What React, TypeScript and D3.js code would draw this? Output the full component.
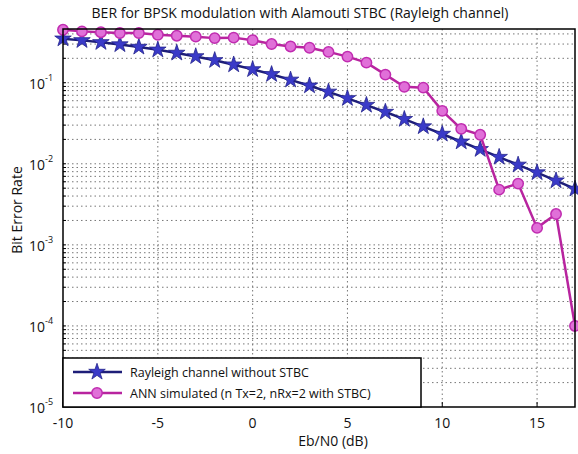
import React from "react";
import * as d3 from "d3";

const W = 578;
const H = 454;

const snrDb = [-10, -9, -8, -7, -6, -5, -4, -3, -2, -1, 0, 1, 2, 3, 4, 5, 6, 7, 8, 9, 10, 11, 12, 13, 14, 15, 16, 17];
const berRayleigh = [0.349, 0.333, 0.315, 0.296, 0.276, 0.255, 0.233, 0.211, 0.189, 0.167, 0.146, 0.127, 0.1085, 0.0919, 0.0772, 0.0642, 0.053, 0.0435, 0.0355, 0.0288, 0.0233, 0.0187, 0.0151, 0.0121, 0.0097, 0.0078, 0.0062, 0.0049];
const berAnn = [0.45, 0.43, 0.42, 0.41, 0.41, 0.39, 0.38, 0.37, 0.355, 0.36, 0.335, 0.3, 0.28, 0.27, 0.24, 0.21, 0.177, 0.126, 0.089, 0.087, 0.045, 0.027, 0.0228, 0.0048, 0.0057, 0.00162, 0.0024, 0.0001];
const xTicks = [-10, -5, 0, 5, 10, 15];
const yTickExps = [-1, -2, -3, -4, -5];
const legendLabels = ["Rayleigh channel without STBC", "ANN simulated (n Tx=2, nRx=2 with STBC)"];

const left = 63, right = 575, top = 29, bottom = 407;
const font = "'Open Sans', sans-serif";

export default function App() {
  const x = d3.scaleLinear().domain([-10, 17]).range([left, right]);
  const y = d3.scaleLog().domain([1e-5, 0.46]).range([bottom, top]);

  const line = d3.line<number>().x((_, i) => x(snrDb[i])).y((v) => y(v));
  const star = d3.symbol().type(d3.symbolStar).size(85)();

  // minor grid values m x 10^k
  const minor: number[] = [];
  for (let e = -5; e <= -1; e++) {
    for (let m = 1; m <= 9; m++) {
      const v = m * Math.pow(10, e);
      if (v < 0.46 && v > 1e-5) minor.push(v);
    }
  }
  const xGrid = xTicks.filter((t) => t > -10);

  return (
    <svg width={W} height={H} style={{ position: "absolute", left: 0, top: 0, background: "#fff" }} fontFamily={font}>
      <text x={300} y={18} textAnchor="middle" fontSize={14} fill="#111">
        BER for BPSK modulation with Alamouti STBC (Rayleigh channel)
      </text>

      {/* grid */}
      <g stroke="#777" strokeWidth={1} strokeDasharray="1.5,3">
        {minor.map((v, i) => (
          <line key={"gy" + i} x1={left} x2={right} y1={y(v)} y2={y(v)} />
        ))}
        {xGrid.map((t) => (
          <line key={"gx" + t} x1={x(t)} x2={x(t)} y1={top} y2={bottom} />
        ))}
      </g>

      {/* ticks */}
      <g stroke="#000" strokeWidth={1}>
        {minor.map((v, i) => (
          <line key={"ty" + i} x1={left} x2={left + 3} y1={y(v)} y2={y(v)} />
        ))}
        {xTicks.map((t) => (
          <line key={"tx" + t} x1={x(t)} x2={x(t)} y1={bottom} y2={bottom - 5} />
        ))}
      </g>

      {/* series */}
      <path d={line(berRayleigh) || ""} fill="none" stroke="#1e1e78" strokeWidth={2.5} />
      {berRayleigh.map((v, i) => (
        <path key={"s" + i} d={star || ""} transform={`translate(${x(snrDb[i])},${y(v)})`} fill="#3a3ac8" stroke="#23238a" strokeWidth={0.8} />
      ))}
      <path d={line(berAnn) || ""} fill="none" stroke="#b8249f" strokeWidth={2.5} />
      {berAnn.map((v, i) => (
        <circle key={"c" + i} cx={x(snrDb[i])} cy={y(v)} r={5.2} fill="#e070d8" stroke="#c02cb0" strokeWidth={1.5} />
      ))}

      {/* axes box */}
      <rect x={left} y={top} width={right - left} height={bottom - top} fill="none" stroke="#000" strokeWidth={1.5} />

      {/* y tick labels */}
      {yTickExps.map((e) => (
        <text key={"yl" + e} x={45} y={y(Math.pow(10, e)) + 6} textAnchor="end" fontSize={14} fill="#111">
          10
        </text>
      ))}
      {yTickExps.map((e) => (
        <text key={"ye" + e} x={45} y={y(Math.pow(10, e)) - 2} fontSize={9} fill="#111">
          {e}
        </text>
      ))}

      {/* x tick labels */}
      {xTicks.map((t) => (
        <text key={"xl" + t} x={x(t)} y={428} textAnchor="middle" fontSize={14} fill="#111">
          {t}
        </text>
      ))}

      <text x={333} y={446} textAnchor="middle" fontSize={14} fill="#111">
        Eb/N0 (dB)
      </text>
      <text transform="translate(22,210) rotate(-90)" textAnchor="middle" fontSize={14} fill="#111">
        Bit Error Rate
      </text>

      {/* legend */}
      <rect x={left} y={358} width={358} height={49} fill="#fff" stroke="#000" strokeWidth={1.5} />
      <line x1={73} x2={122} y1={372} y2={372} stroke="#1e1e78" strokeWidth={2.5} />
      <path d={star || ""} transform="translate(97,372)" fill="#3a3ac8" stroke="#23238a" strokeWidth={0.8} />
      <line x1={73} x2={122} y1={393} y2={393} stroke="#b8249f" strokeWidth={2.5} />
      <circle cx={97} cy={393} r={5.2} fill="#e070d8" stroke="#c02cb0" strokeWidth={1.5} />
      {legendLabels.map((l, i) => (
        <text key={l} x={130} y={376.5 + i * 21} fontSize={12.5} fill="#111">
          {l}
        </text>
      ))}
    </svg>
  );
}
